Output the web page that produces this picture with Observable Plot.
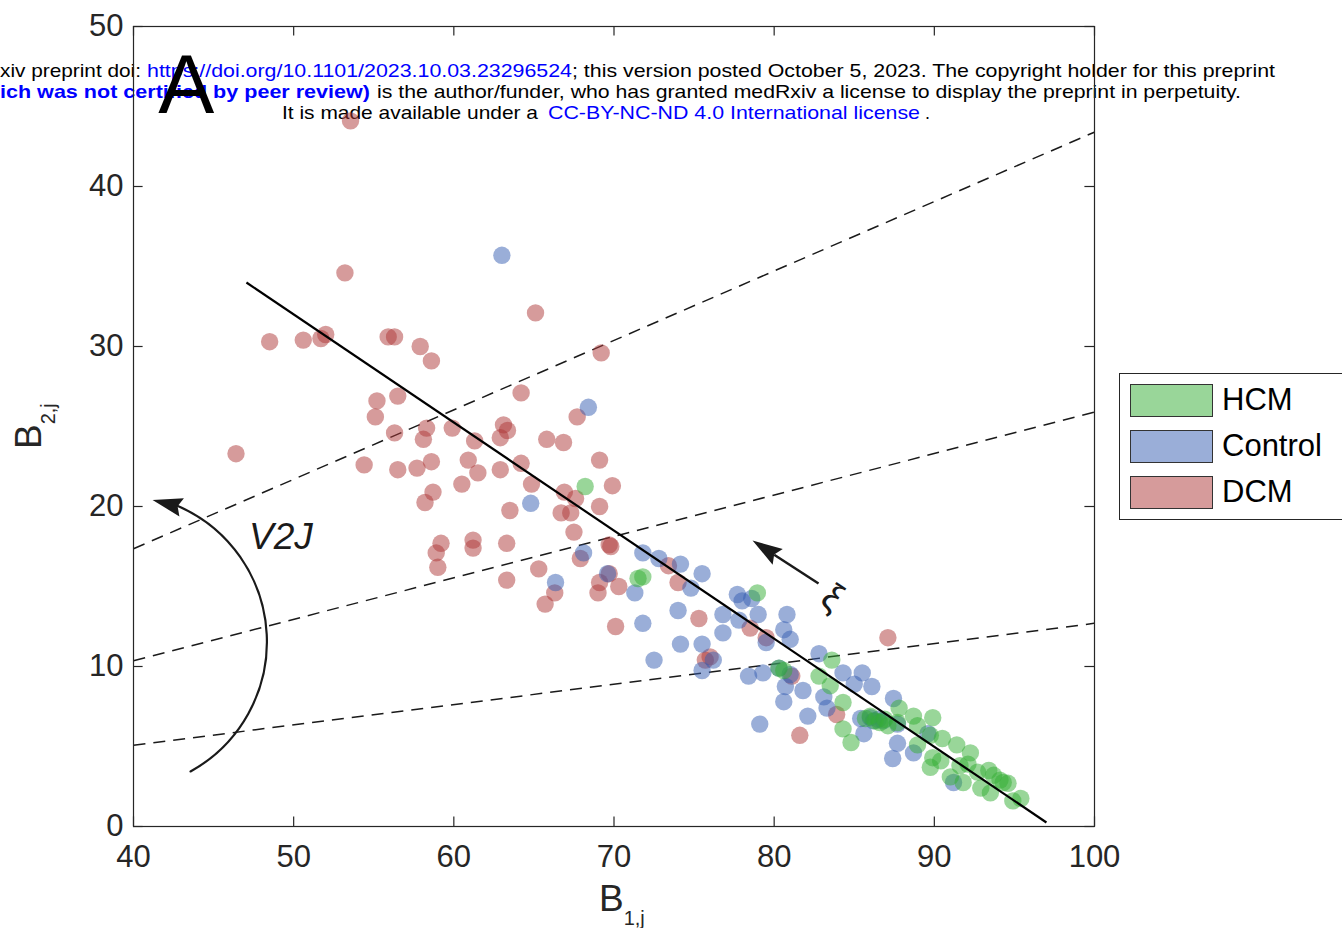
<!DOCTYPE html>
<html><head><meta charset="utf-8">
<script src="https://cdn.jsdelivr.net/npm/d3@7"></script>
<script src="https://cdn.jsdelivr.net/npm/@observablehq/plot@0.6"></script>
<style>
body{margin:0;background:#fff;overflow:hidden;font-family:"Liberation Sans",Arial,Helvetica,sans-serif;}
#wrap{position:relative;width:1342px;height:928px;overflow:hidden;}
#header{position:absolute;left:0;top:0;}
#chart{position:absolute;left:0;top:0;}
#legend{position:absolute;left:1119px;top:373px;width:240px;height:147px;border:1px solid #262626;background:#fff;box-sizing:border-box;}
.item{position:absolute;left:10px;height:34px;}
.sw{position:absolute;left:0;top:0;width:83px;height:33px;border:1px solid #333;box-sizing:border-box;}
.lab{position:absolute;left:92px;top:-2px;font-size:31px;line-height:36px;color:#000;white-space:nowrap;}
</style></head>
<body><div id="wrap"><svg id="header" width="1342" height="130"></svg><div id="chart"></div><div id="legend"></div></div>
<script>
// ---- data ----
const groups = ["HCM", "Control", "DCM"];
const groupColors = ["#33ad33", "#355db1", "#ad3737"];
const legendSwatches = ["#99d699", "#9aaed8", "#d69b9b"];

const dcm = [[53.55,44.1],[53.2,34.6],[48.5,30.3],[50.6,30.4],[51.7,30.5],[52.0,30.75],[55.9,30.6],[56.3,30.6],[57.9,30.0],[58.6,29.1],[65.1,32.1],[69.2,29.6],[64.2,27.1],[67.7,25.6],[55.2,26.6],[56.5,26.9],[55.1,25.6],[56.3,24.6],[58.3,24.9],[58.1,24.2],[59.9,24.9],[61.3,24.1],[63.1,25.1],[63.35,24.75],[62.9,24.3],[65.8,24.2],[66.85,24.0],[46.4,23.3],[54.4,22.6],[56.5,22.3],[57.7,22.4],[58.6,22.8],[60.9,22.9],[61.5,22.1],[62.9,22.3],[64.2,22.7],[64.85,21.4],[69.1,22.9],[60.5,21.4],[58.7,20.9],[58.2,20.25],[63.5,19.75],[66.9,20.9],[67.6,20.5],[69.9,21.3],[69.1,20.0],[66.7,19.6],[67.3,19.6],[67.5,18.4],[67.9,16.75],[69.7,17.6],[69.8,17.5],[59.2,17.7],[58.9,17.1],[59.0,16.2],[61.2,17.9],[61.2,17.4],[63.3,17.7],[65.3,16.1],[63.3,15.4],[66.3,14.6],[65.7,13.9],[69.1,15.25],[69.0,14.6],[69.7,15.8],[70.3,15.0],[70.1,12.5],[73.4,16.3],[74.0,15.25],[75.3,13.0],[76.0,10.6],[75.7,10.4],[78.5,12.4],[79.5,11.8],[87.1,11.8],[81.1,9.4],[83.9,7.0],[81.6,5.7]];
const control = [[63.0,35.7],[68.4,26.2],[64.8,20.2],[68.1,17.1],[66.35,15.25],[69.6,15.8],[71.3,14.6],[71.8,17.1],[72.8,16.75],[74.15,16.4],[75.5,15.8],[74.8,14.9],[74.0,13.5],[71.8,12.7],[72.5,10.4],[74.15,11.4],[75.5,11.4],[76.2,10.4],[75.5,9.75],[76.8,12.1],[76.8,13.25],[77.7,14.5],[78.0,14.1],[78.6,14.25],[79.0,13.25],[77.8,12.9],[80.8,13.25],[80.6,12.3],[81.0,11.7],[79.5,11.5],[79.3,9.6],[78.4,9.4],[80.3,9.9],[81.0,9.5],[80.7,8.75],[81.8,8.5],[80.6,7.8],[82.1,6.9],[79.1,6.4],[82.8,10.8],[83.1,8.1],[83.3,7.4],[84.3,9.6],[85.5,9.6],[86.1,8.75],[85.0,8.9],[85.4,6.75],[85.6,5.8],[86.2,6.6],[86.5,6.7],[86.8,6.6],[86.0,6.8],[87.45,8.0],[87.4,4.25],[88.7,4.6],[87.7,5.2],[89.6,5.8],[91.2,2.75],[87.7,6.4]];
const hcm = [[68.2,21.25],[71.5,15.5],[71.8,15.6],[78.95,14.6],[80.3,9.9],[80.6,9.75],[82.8,9.4],[83.6,10.4],[83.5,8.8],[84.3,7.75],[84.3,6.1],[84.8,5.25],[85.7,6.75],[86.0,6.9],[86.3,6.6],[86.6,6.5],[86.9,6.7],[87.1,6.3],[87.8,7.4],[87.7,6.5],[88.7,6.9],[89.9,6.8],[88.95,6.3],[89.75,5.7],[90.5,5.5],[88.95,5.1],[89.9,4.3],[89.75,3.7],[90.4,4.1],[91.4,5.1],[92.25,4.6],[92.1,3.9],[91.6,3.8],[91.0,3.1],[91.8,2.75],[92.7,3.4],[93.4,3.5],[93.7,3.2],[94.1,2.9],[94.6,2.7],[93.5,2.1],[92.9,2.4],[94.9,1.6],[95.4,1.75],[94.3,2.75]];

const xTicks = [40, 50, 60, 70, 80, 90, 100];
const yTicks = [0, 10, 20, 30, 40, 50];
const raySlopes = [0.434, 0.259, 0.127];           // dashed lines y = m*x
const fitLine = [[47.05, 34.0], [97.0, 0.25]];     // solid line endpoints
const xiArrow = {from: [82.77, 15.19], to: [80.0, 16.98], tip: [78.65, 17.875], rot: -57};
const v2jArrow = {from: [43.56, 3.44], to: [42.7, 20.06], tip: [41.19, 20.4], rot: -76, bend: -64};
const panelLabel = {text: "A", x: 43.3, y: 46.3};
const v2jLabel = {text: "V2J", x: 49.2, y: 18.06};
const xiLabel = {text: "ξ", x: 83.64, y: 14.31, rot: 34};

// ---- header (preprint notice) ----
const headerLines = [
  [{x:0,w:141,y:77,t:"xiv preprint doi:",c:"#000"},{x:147,w:425,y:77,t:"https://doi.org/10.1101/2023.10.03.23296524",c:"#0000ff"},{x:572,w:703,y:77,t:"; this version posted October 5, 2023. The copyright holder for this preprint",c:"#000"}],
  [{x:0,w:370,y:98,t:"ich was not certified by peer review)",c:"#0000ff",b:true},{x:377,w:864,y:98,t:"is the author/funder, who has granted medRxiv a license to display the preprint in perpetuity.",c:"#000"}],
  [{x:282,w:256,y:119,t:"It is made available under a",c:"#000"},{x:548,w:372,y:119,t:"CC-BY-NC-ND 4.0 International license",c:"#0000ff"},{x:925,w:5,y:119,t:".",c:"#000"}]
];
const hdr = d3.select("#header");
headerLines.flat().forEach(s => {
  hdr.append("text").attr("x", s.x).attr("y", s.y).attr("textLength", s.w).attr("lengthAdjust", "spacingAndGlyphs")
    .attr("font-family", "Liberation Sans, Arial, sans-serif").attr("font-size", 19)
    .attr("font-weight", s.b ? "bold" : "normal").attr("fill", s.c).attr("xml:space","preserve").text(s.t);
});

// ---- chart ----
const pts = [
  ...dcm.map(([x, y]) => ({x, y, g: "DCM"})),
  ...control.map(([x, y]) => ({x, y, g: "Control"})),
  ...hcm.map(([x, y]) => ({x, y, g: "HCM"}))
];
const arrowHead = {
  draw(ctx, size) {
    const r = Math.sqrt(size / Math.PI);
    ctx.moveTo(0, 0);
    ctx.lineTo(0.31 * r, r);
    ctx.lineTo(0, 0.86 * r);
    ctx.lineTo(-0.31 * r, r);
    ctx.closePath();
  }
};
const ink = "#1a1a1a";
const axisColor = "#262626";
const font = "Liberation Sans, Arial, Helvetica, sans-serif";

const plot = Plot.plot({
  width: 1342, height: 928,
  marginLeft: 133, marginRight: 248, marginTop: 26, marginBottom: 102,
  x: {domain: [40, 100]},
  y: {domain: [0, 50]},
  color: {domain: groups, range: groupColors},
  style: {background: "transparent", fontFamily: font, color: axisColor},
  marks: [
    Plot.link(raySlopes, {x1: () => 40, y1: m => 40 * m, x2: () => 100, y2: m => 100 * m,
      stroke: ink, strokeWidth: 1.5, strokeDasharray: "12,8", clip: true}),
    Plot.dot(pts, {x: "x", y: "y", fill: "g", r: 8.7, fillOpacity: 0.5, stroke: "none"}),
    Plot.link([fitLine], {x1: d => d[0][0], y1: d => d[0][1], x2: d => d[1][0], y2: d => d[1][1], stroke: "#000", strokeWidth: 2.2}),
    Plot.link([xiArrow], {x1: d => d.from[0], y1: d => d.from[1], x2: d => d.to[0], y2: d => d.to[1], stroke: ink, strokeWidth: 2.5}),
    Plot.arrow([v2jArrow], {x1: d => d.from[0], y1: d => d.from[1], x2: d => d.to[0], y2: d => d.to[1],
      bend: v2jArrow.bend, headLength: 0, stroke: ink, strokeWidth: 2.2}),
    Plot.dot([xiArrow, v2jArrow], {x: d => d.tip[0], y: d => d.tip[1], rotate: d => d.rot, r: 30, symbol: arrowHead, fill: ink, stroke: "none"}),
    Plot.text([panelLabel], {x: "x", y: "y", text: "text", fontSize: 84, fill: "#000", fontFamily: font}),
    Plot.text([v2jLabel], {x: "x", y: "y", text: "text", fontSize: 37, fontStyle: "italic", fill: ink, fontFamily: font}),
    Plot.text([xiLabel], {x: "x", y: "y", text: "text", rotate: d => d.rot, fontSize: 38, fill: ink, fontFamily: font}),
    Plot.frame({stroke: axisColor, strokeWidth: 1.2}),
    Plot.ruleX(xTicks, {x: d => d, y1: 0, y2: 0.6, stroke: axisColor, strokeWidth: 1.2}),
    Plot.ruleX(xTicks, {x: d => d, y1: 50, y2: 49.4, stroke: axisColor, strokeWidth: 1.2}),
    Plot.ruleY(yTicks, {y: d => d, x1: 40, x2: 40.6, stroke: axisColor, strokeWidth: 1.2}),
    Plot.ruleY(yTicks, {y: d => d, x1: 100, x2: 99.4, stroke: axisColor, strokeWidth: 1.2}),
    Plot.axisX({ticks: xTicks, tickSize: 0, tickPadding: 18, fontSize: 31, fill: axisColor, label: null}),
    Plot.axisY({ticks: yTicks, tickSize: 0, tickPadding: 10, fontSize: 31, fill: axisColor, label: null})
  ]
});
document.getElementById("chart").appendChild(plot);

// axis titles with subscripts
const svg = d3.select(plot);
const xt = svg.append("text").attr("x", 599).attr("y", 911).attr("text-anchor", "start").attr("font-family", font).attr("fill", axisColor);
xt.append("tspan").attr("font-size", 37).text("B");
xt.append("tspan").attr("font-size", 20).attr("dy", 14).text("1,j");
const yt = svg.append("text").attr("transform", "translate(41,449) rotate(-90)").attr("text-anchor", "start").attr("font-family", font).attr("fill", axisColor);
yt.append("tspan").attr("font-size", 37).text("B");
yt.append("tspan").attr("font-size", 20).attr("dy", 14).text("2,j");

// legend
const leg = d3.select("#legend");
groups.forEach((g, i) => {
  const it = leg.append("div").attr("class", "item").style("top", (10 + i * 46) + "px");
  it.append("div").attr("class", "sw").style("background", legendSwatches[i]);
  it.append("div").attr("class", "lab").text(g);
});
</script></body></html>
